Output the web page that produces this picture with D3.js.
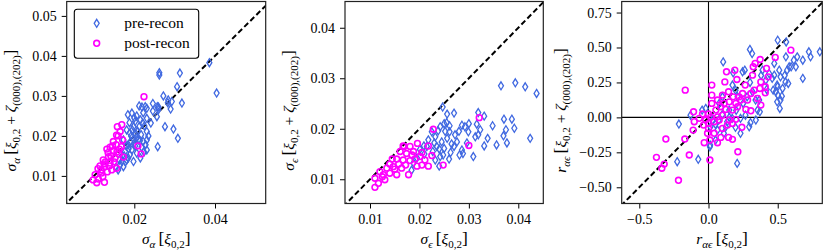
<!DOCTYPE html>
<html>
<head>
<meta charset="utf-8">
<script src="https://cdn.jsdelivr.net/npm/d3@7"></script>
<style>
  body { margin: 0; background: #fff; }
  svg text { font-family: 'Liberation Serif', 'DejaVu Serif', serif; fill: #000; }
</style>
</head>
<body>
<script>
// sigma_alpha : [x = xi_{0,2}, y = xi_{0,2} + zeta]
const alphaPre = [[0.0262,0.0358],[0.0262,0.0352],[0.0313,0.0357],[0.0306,0.0323],[0.0386,0.0383],[0.0404,0.0307],[0.0272,0.0300],[0.0284,0.0290],[0.0283,0.0283],[0.0293,0.0286],[0.0318,0.0282],[0.0290,0.0267],[0.0260,0.0272],[0.0260,0.0266],[0.0246,0.0281],[0.0231,0.0269],[0.0212,0.0275],[0.0219,0.0272],[0.0246,0.0262],[0.0257,0.0273],[0.0227,0.0273],[0.0194,0.0257],[0.0184,0.0253],[0.0206,0.0250],[0.0231,0.0244],[0.0256,0.0248],[0.0202,0.0236],[0.0221,0.0232],[0.0188,0.0233],[0.0198,0.0223],[0.0212,0.0223],[0.0276,0.0223],[0.0241,0.0232],[0.0231,0.0211],[0.0297,0.0217],[0.0308,0.0194],[0.0258,0.0173],[0.0181,0.0215],[0.0189,0.0207],[0.0204,0.0205],[0.0217,0.0203],[0.0198,0.0192],[0.0210,0.0190],[0.0222,0.0186],[0.0231,0.0190],[0.0173,0.0190],[0.0185,0.0178],[0.0202,0.0175],[0.0218,0.0172],[0.0194,0.0165],[0.0231,0.0165],[0.0177,0.0161],[0.0189,0.0153],[0.0206,0.0157],[0.0198,0.0136],[0.0181,0.0140],[0.0169,0.0136],[0.0173,0.0123],[0.0165,0.0128],[0.0160,0.0115],[0.0215,0.0145],[0.0224,0.0160],[0.0192,0.0200],[0.0208,0.0212],[0.0163,0.0140],[0.0175,0.0150],[0.0155,0.0122],[0.0228,0.0178],[0.0200,0.0182],[0.0186,0.0168],[0.0214,0.0188],[0.0195,0.0215],[0.0215,0.0240],[0.0225,0.0225],[0.0180,0.0175],[0.0190,0.0185],[0.0205,0.0195],[0.0178,0.0135],[0.0185,0.0145],[0.0170,0.0150],[0.0235,0.0200],[0.0222,0.0258],[0.0200,0.0245]]
const alphaPost = [[0.0224,0.0298],[0.0169,0.0228],[0.0158,0.0223],[0.0165,0.0211],[0.0156,0.0202],[0.0160,0.0200],[0.0171,0.0190],[0.0148,0.0186],[0.0155,0.0178],[0.0140,0.0172],[0.0132,0.0167],[0.0148,0.0163],[0.0163,0.0167],[0.0209,0.0175],[0.0217,0.0155],[0.0173,0.0147],[0.0152,0.0144],[0.0136,0.0148],[0.0123,0.0140],[0.0140,0.0132],[0.0156,0.0119],[0.0127,0.0123],[0.0115,0.0125],[0.0144,0.0115],[0.0119,0.0107],[0.0103,0.0103],[0.0111,0.0092],[0.0126,0.0084],[0.0098,0.0090],[0.0107,0.0083],[0.0128,0.0135],[0.0135,0.0158],[0.0146,0.0175],[0.0162,0.0155],[0.0150,0.0135],[0.0118,0.0115],[0.0133,0.0110],[0.0110,0.0118],[0.0122,0.0098],[0.0138,0.0125],[0.0157,0.0160],[0.0142,0.0150],[0.0168,0.0173],[0.0125,0.0130]]

// sigma_epsilon
const epsPre = [[0.0365,0.0285],[0.0394,0.0291],[0.0414,0.0283],[0.0437,0.0270],[0.0424,0.0181],[0.0247,0.0243],[0.0256,0.0229],[0.0270,0.0231],[0.0319,0.0232],[0.0331,0.0225],[0.0255,0.0212],[0.0242,0.0204],[0.0261,0.0206],[0.0286,0.0207],[0.0292,0.0204],[0.0299,0.0194],[0.0316,0.0209],[0.0348,0.0206],[0.0371,0.0219],[0.0387,0.0219],[0.0392,0.0201],[0.0375,0.0198],[0.0370,0.0186],[0.0377,0.0172],[0.0356,0.0168],[0.0338,0.0181],[0.0331,0.0166],[0.0309,0.0145],[0.0313,0.0184],[0.0323,0.0198],[0.0281,0.0148],[0.0286,0.0158],[0.0263,0.0153],[0.0240,0.0126],[0.0276,0.0174],[0.0272,0.0188],[0.0256,0.0181],[0.0245,0.0174],[0.0232,0.0184],[0.0218,0.0178],[0.0225,0.0194],[0.0261,0.0194],[0.0250,0.0161],[0.0235,0.0165],[0.0227,0.0155],[0.0242,0.0145],[0.0232,0.0138],[0.0184,0.0118],[0.0188,0.0132],[0.0209,0.0166],[0.0201,0.0159],[0.0319,0.0188],[0.0288,0.0151],[0.0248,0.0148],[0.0265,0.0170],[0.0296,0.0172],[0.0210,0.0150],[0.0195,0.0142],[0.0252,0.0195],[0.0238,0.0196],[0.0215,0.0165],[0.0230,0.0172],[0.0240,0.0160],[0.0260,0.0140],[0.0250,0.0210],[0.0280,0.0195],[0.0300,0.0210],[0.0270,0.0165]]
const epsPost = [[0.0321,0.0222],[0.0228,0.0199],[0.0300,0.0167],[0.0248,0.0128],[0.0196,0.0171],[0.0218,0.0166],[0.0225,0.0147],[0.0218,0.0126],[0.0211,0.0138],[0.0201,0.0145],[0.0188,0.0155],[0.0181,0.0165],[0.0167,0.0166],[0.0174,0.0151],[0.0161,0.0155],[0.0154,0.0140],[0.0167,0.0138],[0.0181,0.0137],[0.0191,0.0140],[0.0147,0.0125],[0.0164,0.0122],[0.0178,0.0109],[0.0134,0.0122],[0.0140,0.0112],[0.0154,0.0109],[0.0127,0.0109],[0.0120,0.0115],[0.0110,0.0102],[0.0117,0.0092],[0.0110,0.0084],[0.0130,0.0099],[0.0195,0.0126],[0.0205,0.0128],[0.0205,0.0153],[0.0145,0.0140],[0.0169,0.0165],[0.0158,0.0130],[0.0140,0.0130],[0.0125,0.0105],[0.0185,0.0148],[0.0172,0.0128],[0.0150,0.0120]]

// r_alpha_epsilon
const rPre = [[0.500,0.552],[0.561,0.540],[0.804,0.469],[0.725,0.469],[0.737,0.433],[0.681,0.409],[0.641,0.433],[0.597,0.362],[0.616,0.409],[0.568,0.338],[0.520,0.290],[0.556,0.254],[0.681,0.279],[0.576,0.243],[0.496,0.231],[0.467,0.195],[0.501,0.159],[0.520,0.124],[0.496,0.111],[0.515,0.064],[0.299,0.486],[0.315,0.457],[0.178,0.319],[0.262,0.338],[0.106,0.397],[0.195,0.195],[0.279,0.147],[0.340,0.124],[0.371,0.040],[0.303,-0.038],[0.231,-0.114],[0.207,-0.329],[-0.074,-0.300],[-0.226,-0.317],[-0.214,-0.048],[-0.130,0.016],[-0.046,0.052],[0.014,-0.067],[0.010,-0.210],[0.051,-0.162],[0.111,-0.114],[0.074,-0.019],[0.135,-0.031],[0.171,-0.007],[0.195,-0.071],[0.231,-0.007],[0.267,0.016],[0.475,0.386],[0.511,0.338],[0.583,0.362],[0.631,0.362],[0.559,0.433],[0.475,0.302],[0.499,0.219],[0.535,0.207],[0.486,0.183],[0.414,0.266],[0.438,0.314],[0.390,0.338],[0.246,0.326],[0.173,0.231],[0.210,0.147],[0.101,0.147],[0.077,0.100],[0.150,0.052],[0.294,-0.067],[0.125,-0.067],[0.065,-0.091],[0.029,-0.019],[-0.020,0.064],[0.354,0.052],[0.366,0.124],[0.318,0.183],[0.530,0.152],[0.342,-0.019],[0.012,-0.198],[0.150,0.000],[0.200,0.050],[0.250,0.100],[0.050,-0.050],[0.100,0.020],[0.300,0.250],[0.420,0.200],[0.460,0.280],[0.380,0.300],[0.550,0.300]]
const rPost = [[0.595,0.481],[0.482,0.429],[0.373,0.414],[0.337,0.386],[0.323,0.362],[0.419,0.350],[0.431,0.290],[0.130,0.326],[0.190,0.338],[0.205,0.271],[0.118,0.254],[0.024,0.231],[-0.168,0.195],[0.265,0.231],[0.318,0.302],[0.378,0.254],[0.410,0.219],[0.410,0.176],[0.371,0.207],[0.330,0.195],[0.306,0.171],[0.246,0.171],[0.222,0.147],[0.178,0.147],[0.145,0.183],[0.101,0.159],[0.065,0.124],[0.024,0.159],[0.024,0.100],[0.113,0.100],[0.150,0.111],[0.197,0.100],[0.233,0.124],[0.282,0.124],[0.354,0.136],[0.378,0.088],[0.306,0.047],[0.270,0.057],[0.210,0.076],[0.173,0.052],[0.125,0.057],[0.089,0.076],[0.053,0.052],[0.000,0.024],[-0.043,0.024],[-0.108,0.040],[-0.067,-0.007],[-0.103,-0.031],[-0.020,-0.019],[0.017,0.004],[0.065,0.004],[0.101,0.016],[0.077,-0.019],[0.041,-0.031],[0.150,-0.019],[0.197,-0.014],[0.173,-0.043],[0.137,-0.055],[0.241,-0.071],[0.101,-0.079],[0.000,-0.079],[0.041,-0.114],[-0.007,-0.114],[-0.111,-0.091],[0.089,-0.143],[0.145,-0.143],[0.173,-0.157],[0.010,-0.162],[-0.031,-0.181],[0.065,-0.181],[-0.171,-0.155],[-0.308,-0.155],[-0.139,-0.269],[-0.376,-0.286],[-0.320,-0.334],[-0.337,-0.364],[-0.217,-0.450],[0.010,-0.305],[0.212,-0.246],[0.000,-0.043],[-0.036,-0.055]]

const sigmaTicks = [0.01, 0.02, 0.03, 0.04, 0.05]
const alphaXTicks = [0.02, 0.04]
const epsTicks = [0.01, 0.02, 0.03, 0.04]
const rXTicks = [-0.5, 0.0, 0.5]
const rYTicks = [-0.5, -0.25, 0, 0.25, 0.5, 0.75]
const seriesNames = ['pre-recon', 'post-recon']

const width = 830, height = 251
const preColor = '#4169e1', postColor = '#ff00ff'
const minus = (s) => s.replace('-', '\u2212')

const svg = d3.select('body').append('svg').attr('width', width).attr('height', height)

const panels = [
  { x0: 66.7, x1: 265.7, xDom: [0.00325, 0.05256], yDom: [0.0031, 0.0536], xTicks: alphaXTicks, yTicks: sigmaTicks,
    fx: d3.format('.2f'), fy: d3.format('.2f'), pre: alphaPre, post: alphaPost, sym: [['σ', 'it'], ['α', 'sub']], ylabX: 16, legend: true },
  { x0: 345, x1: 543.3, xDom: [0.00494, 0.04506], yDom: [0.0052, 0.0452], xTicks: epsTicks, yTicks: epsTicks,
    fx: d3.format('.2f'), fy: d3.format('.2f'), pre: epsPre, post: epsPost, sym: [['σ', 'it'], ['ϵ', 'sub']], ylabX: 294 },
  { x0: 621.7, x1: 822.3, xDom: [-0.627, 0.822], yDom: [-0.616, 0.829], xTicks: rXTicks, yTicks: rYTicks,
    fx: (d) => minus(d3.format('.1f')(d)), fy: (d) => minus(d3.format('.2f')(d)), pre: rPre, post: rPost,
    sym: [['r', 'it'], ['αϵ', 'sub']], ylabX: 566, zero: true }
]
const plotTop = 1.5, plotBottom = 203.5

// math-ish label made of tspans
function mathLabel(sel, parts) {
  let shifted = false
  parts.forEach(([t, kind]) => {
    const ts = sel.append('tspan').text(t)
    if (kind === 'it') ts.attr('font-style', 'italic')
    if (kind === 'sub') {
      ts.attr('font-size', '11px').attr('font-style', t.match(/[0-9(]/) ? 'normal' : 'italic')
      if (!shifted) { ts.attr('dy', 3.8); shifted = true }
    } else if (shifted) { ts.attr('dy', -3.8); shifted = false }
    if (kind === 'br') ts.attr('font-size', '17.5px')
  })
  if (shifted) sel.append('tspan').attr('dy', -3.8).text('')
}

panels.forEach((p, i) => {
  const xScale = d3.scaleLinear().domain(p.xDom).range([p.x0, p.x1])
  const yScale = d3.scaleLinear().domain(p.yDom).range([plotBottom, plotTop])
  const g = svg.append('g')

  const clipId = 'clip' + i
  g.append('clipPath').attr('id', clipId).append('rect')
    .attr('x', p.x0).attr('y', plotTop).attr('width', p.x1 - p.x0).attr('height', plotBottom - plotTop)
  const plot = g.append('g').attr('clip-path', `url(#${clipId})`)

  if (p.zero) {
    plot.append('line').attr('x1', xScale(0)).attr('x2', xScale(0)).attr('y1', plotTop).attr('y2', plotBottom)
      .attr('stroke', '#000').attr('stroke-width', 1.1)
    plot.append('line').attr('x1', p.x0).attr('x2', p.x1).attr('y1', yScale(0)).attr('y2', yScale(0))
      .attr('stroke', '#000').attr('stroke-width', 1.1)
  }

  // one-to-one line
  const lo = Math.min(p.xDom[0], p.yDom[0]) - 1, hi = Math.max(p.xDom[1], p.yDom[1]) + 1
  plot.append('line')
    .attr('x1', xScale(lo)).attr('y1', yScale(lo)).attr('x2', xScale(hi)).attr('y2', yScale(hi))
    .attr('stroke', '#000').attr('stroke-width', 2).attr('stroke-dasharray', '5.5,3')

  plot.selectAll('path.pre').data(p.pre).enter().append('path')
    .classed('pre', true)
    .attr('d', 'M0,-4L2.5,0L0,4L-2.5,0Z')
    .attr('transform', (d) => `translate(${xScale(d[0])},${yScale(d[1])})`)
    .attr('fill', 'none').attr('stroke', preColor).attr('stroke-width', 1.3)

  plot.selectAll('circle.post').data(p.post).enter().append('circle')
    .classed('post', true)
    .attr('cx', (d) => xScale(d[0])).attr('cy', (d) => yScale(d[1])).attr('r', 2.9)
    .attr('fill', 'none').attr('stroke', postColor).attr('stroke-width', 1.6)

  // axes
  const xAxis = g.append('g').attr('transform', `translate(0,${plotBottom})`)
    .call(d3.axisBottom(xScale).tickValues(p.xTicks).tickFormat(p.fx).tickSize(5).tickPadding(4))
  const yAxis = g.append('g').attr('transform', `translate(${p.x0},0)`)
    .call(d3.axisLeft(yScale).tickValues(p.yTicks).tickFormat(p.fy).tickSize(5).tickPadding(5))
  ;[xAxis, yAxis].forEach((a) => {
    a.select('.domain').remove()
    a.selectAll('line').attr('stroke', '#000').attr('stroke-width', 1)
    a.selectAll('text').attr('font-size', '14px').attr('font-family', null)
  })
  xAxis.selectAll('text').attr('dy', '0.85em')

  g.append('rect').attr('x', p.x0).attr('y', plotTop).attr('width', p.x1 - p.x0).attr('height', plotBottom - plotTop)
    .attr('fill', 'none').attr('stroke', '#222').attr('stroke-width', 1.2)

  // axis labels
  const xl = g.append('text').attr('x', (p.x0 + p.x1) / 2).attr('y', 244)
    .attr('text-anchor', 'middle').attr('font-size', '15.5px')
  mathLabel(xl, [...p.sym, ['\u2009', ''], ['[', 'br'], ['ξ', 'it'], ['0,2', 'sub'], [']', 'br']])

  const yl = g.append('text')
    .attr('transform', `translate(${p.ylabX},${(plotTop + plotBottom) / 2 + 8}) rotate(-90)`)
    .attr('text-anchor', 'middle').attr('font-size', '15.5px')
  mathLabel(yl, [...p.sym, ['\u2009', ''], ['[', 'br'], ['ξ', 'it'], ['0,2', 'sub'], [' + ', ''], ['ζ', 'it'],
    ['(000),(202)', 'sub'], [']', 'br']])

  if (p.legend) {
    const lg = g.append('g')
    lg.append('rect').attr('x', 74.3).attr('y', 9.3).attr('width', 124.4).attr('height', 49)
      .attr('rx', 3).attr('fill', '#fff').attr('stroke', '#000').attr('stroke-width', 1.1)
    seriesNames.forEach((name, k) => {
      const cy = 23.3 + k * 20
      if (k === 0) {
        lg.append('path').attr('d', 'M0,-4L2.5,0L0,4L-2.5,0Z').attr('transform', `translate(96.7,${cy})`)
          .attr('fill', 'none').attr('stroke', preColor).attr('stroke-width', 1.3)
      } else {
        lg.append('circle').attr('cx', 96.7).attr('cy', cy).attr('r', 2.9)
          .attr('fill', 'none').attr('stroke', postColor).attr('stroke-width', 1.6)
      }
      lg.append('text').attr('x', 124.3).attr('y', cy + 4.5).attr('font-size', '15.5px').text(name)
    })
  }
})
</script>
</body>
</html>
